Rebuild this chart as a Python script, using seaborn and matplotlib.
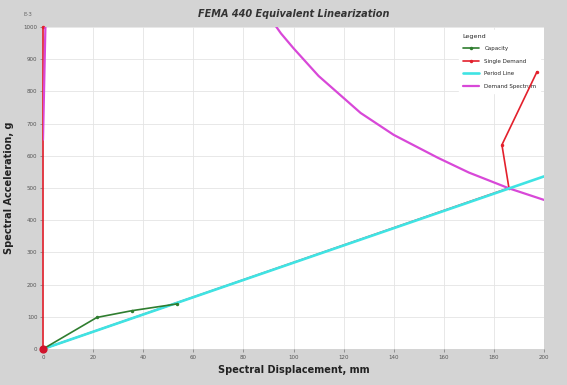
import matplotlib
matplotlib.use("Agg")
import matplotlib.pyplot as plt
import seaborn as sns
import pandas as pd

# Spectral displacement (mm) / spectral acceleration (E-3 g) for each curve
capacity_sd = [0.0, 21.5, 35.5, 53.5]
capacity_sa = [0.0, 98.0, 119.0, 140.0]

single_demand_sd = [0.0, 0.0, 186.0, 183.2, 197.2]
single_demand_sa = [1000.0, 0.0, 500.0, 634.0, 861.0]

period_line_sd = [0.0, 200.0]
period_line_sa = [0.0, 536.0]

spectrum_sd = [0.0, 2.6, 58.0, 75.0, 90.0, 95.0, 100.0, 110.0, 126.8, 140.0, 157.6, 170.0, 186.0, 200.0, 210.0]
spectrum_sa = [650.0, 1600.0, 1600.0, 1240.0, 1035.0, 980.0, 934.0, 848.0, 733.0, 665.0, 594.0, 548.0, 499.0, 463.0, 442.0]

x_ticks = list(range(0, 201, 20))
y_ticks = list(range(0, 1001, 100))

sns.set_theme(style="white")
plt.rcParams["font.family"] = ["DejaVu Sans"]

bg = "#d4d4d4"
fig = plt.figure(figsize=(5.67, 3.85), dpi=100, facecolor=bg)
ax = fig.add_axes([43 / 567, 36 / 385, 501 / 567, 322 / 385])
ax.set_facecolor("white")

def frame(sd, sa):
    return pd.DataFrame({"sd": sd, "sa": sa})

sns.lineplot(data=frame(single_demand_sd, single_demand_sa), x="sd", y="sa",
             sort=False, estimator=None, color="#e3202c", lw=1.2,
             marker="o", markersize=2.5, markeredgewidth=0,
             label="Single Demand", ax=ax, zorder=3)
sns.lineplot(data=frame(spectrum_sd, spectrum_sa), x="sd", y="sa",
             sort=False, estimator=None, color="#d848d8", lw=1.6,
             label="Demand Spectrum", ax=ax, zorder=4)
sns.lineplot(data=frame(period_line_sd, period_line_sa), x="sd", y="sa",
             sort=False, estimator=None, color="#3fe3e3", lw=1.9,
             label="Period Line", ax=ax, zorder=5)
sns.lineplot(data=frame(capacity_sd, capacity_sa), x="sd", y="sa",
             sort=False, estimator=None, color="#2f7d2f", lw=1.2,
             marker="o", markersize=2.5, markeredgewidth=0,
             label="Capacity", ax=ax, zorder=6)

# the single demand's vertical leg sits on the y axis; keep it whole
ax.lines[0].set_clip_on(False)

# origin marker of the single demand
ax.scatter([single_demand_sd[1]], [single_demand_sa[1]], s=24, marker="o",
           color="#d0142c", zorder=8, clip_on=False)

ax.set_xlim(0, 200)
ax.set_ylim(0, 1000)
ax.set_xticks(x_ticks)
ax.set_yticks(y_ticks)
ax.tick_params(axis="both", labelsize=4, colors="#777777", length=2, width=0.5,
               labelcolor="#555555", pad=2, direction="out")
ax.tick_params(axis="x", bottom=True)
ax.tick_params(axis="y", left=True)
ax.grid(True, color="#e4e4e4", lw=0.6)
for s in ax.spines.values():
    s.set_visible(False)

ax.set_xlabel("Spectral Displacement, mm", fontsize=7, fontweight="bold",
              color="#222222", labelpad=4)
ax.set_ylabel("Spectral Acceleration, g", fontsize=7, fontweight="bold",
              color="#222222", labelpad=7)
ax.set_title("FEMA 440 Equivalent Linearization", fontsize=7,
             fontweight="bold", fontstyle="italic", color="#333333", pad=7)
fig.text(28 / 567, 1 - 14 / 385, "E-3", fontsize=4, color="#666666",
         ha="center", va="center")

handles, labels = ax.get_legend_handles_labels()
order = ["Capacity", "Single Demand", "Period Line", "Demand Spectrum"]
hmap = dict(zip(labels, handles))
leg = ax.legend([hmap[k] for k in order], order, loc="upper left",
                bbox_to_anchor=(413 / 501, 1.0), fontsize=4,
                title="Legend", title_fontsize=4.6, frameon=True,
                facecolor="white", edgecolor="white", framealpha=1.0,
                handlelength=3.0, labelspacing=1.35, borderpad=0.7,
                handletextpad=0.9)
leg._legend_box.align = "left"
leg.set_zorder(2)

fig.savefig("out.png", dpi=100, facecolor=bg)
